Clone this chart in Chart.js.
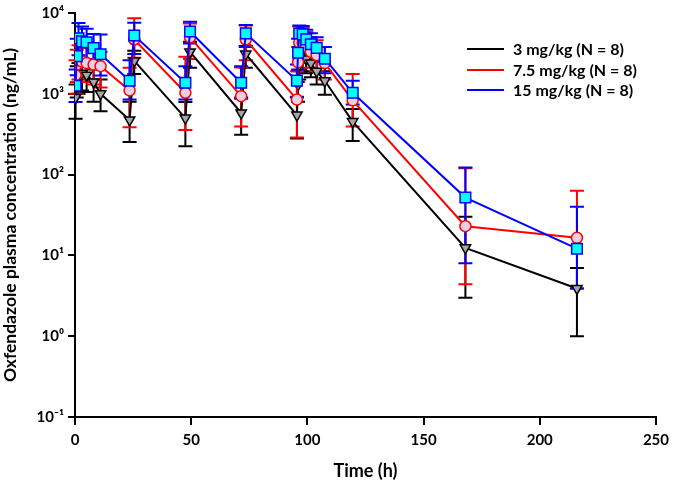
<!DOCTYPE html>
<html>
<head>
<meta charset="utf-8">
<script src="https://cdn.jsdelivr.net/npm/chart.js@4.4.0/dist/chart.umd.min.js"></script>
<style>
  html, body { margin: 0; padding: 0; background: #fff; }
  #wrap { width: 675px; height: 482px; }
</style>
</head>
<body>
<div id="wrap"><canvas id="pkChart" width="675" height="482"></canvas></div>
<script>
// temps de prélèvement (h)
const times = [0.25, 0.75, 1.5, 3, 5, 8, 11, 23.5, 25.5, 47.5, 49.5, 71.5, 73.5,
               95.5, 96, 96.5, 98, 99.5, 101.5, 104, 107.5, 119.5, 168, 216];

const seriesLabels = ['3 mg/kg (N = 8)', '7.5 mg/kg (N = 8)', '15 mg/kg (N = 8)'];

// moyennes (ng/mL)
const mean3 = [900, 1500, 1700, 1800, 1700, 1400, 1000, 475, 2550, 500, 3300, 580, 3100,
               546, 1300, 2300, 2800, 2700, 2400, 1900, 1450, 453, 12.4, 3.9];
const mean75 = [1700, 2300, 2600, 2500, 2400, 2300, 2200, 1100, 4700, 1030, 5000, 935, 4700,
                848, 2450, 4300, 4300, 3800, 3300, 3000, 2400, 830, 23, 16.5];
const mean15 = [1260, 2930, 4850, 4460, 4340, 3670, 3090, 1450, 5260, 1370, 5900, 1370, 5600,
                1455, 3215, 5580, 5430, 4720, 4100, 3700, 2720, 1030, 52, 12.1];

// bornes des barres d'erreur
const low3 = [490, 900, 1000, 1100, 1050, 800, 610, 254, 1760, 225, 2100, 312, 2100,
              280, 800, 1500, 1900, 1800, 1600, 1300, 975, 260, 3.0, 1.0];
const high3 = [1300, 2200, 2400, 2500, 2300, 2000, 1500, 800, 3400, 790, 4400, 900, 3900,
               900, 1900, 3000, 3600, 3500, 3100, 2500, 1900, 650, 30, 7];
const low75 = [1000, 1400, 1500, 1500, 1400, 1300, 1200, 385, 2800, 357, 2700, 394, 2600,
               287, 1400, 2600, 2700, 2400, 2100, 1900, 1500, 394, 4.4, 3.9];
const high75 = [2600, 3500, 4000, 3800, 3700, 3600, 3300, 2100, 8600, 2880, 7400, 2110, 7000,
                1900, 3800, 6800, 6500, 5800, 5000, 4600, 3800, 1760, 120, 63];
const low15 = [790, 1700, 3000, 2800, 2700, 2300, 1680, 850, 3100, 850, 4200, 870, 3800,
               920, 2000, 3800, 3800, 3300, 2900, 2600, 1800, 736, 8, 3.9];
const high15 = [2000, 4800, 7500, 6800, 6400, 5500, 5400, 2600, 7600, 2200, 7800, 2200, 7100,
                2300, 4800, 7000, 6900, 6200, 5600, 5000, 3800, 1455, 122, 40];

const yTickValues = [0.1, 1, 10, 100, 1000, 10000];
const yTickLabels = ['10\u207B\u00B9', '10\u2070', '10\u00B9', '10\u00B2', '10\u00B3', '10\u2074'];

const FONT = 'Lato';

function pts(values) {
    return times.map((t, i) => ({ x: t, y: values[i] }));
}

const errors = [
    { lo: low3, hi: high3, color: '#000000' },
    { lo: low75, hi: high75, color: '#ff0000' },
    { lo: low15, hi: high15, color: '#0000ff' }
];

// barres d'erreur dessinées avec les échelles du graphique
const errorBars = {
    id: 'errorBars',
    beforeDatasetsDraw(chart) {
        const ctx = chart.ctx;
        const xs = chart.scales.x, ys = chart.scales.y;
        ctx.save();
        ctx.lineWidth = 2;
        errors.forEach(e => {
            ctx.strokeStyle = e.color;
            times.forEach((t, i) => {
                const x = xs.getPixelForValue(t);
                const y1 = ys.getPixelForValue(e.lo[i]);
                const y2 = ys.getPixelForValue(e.hi[i]);
                ctx.beginPath();
                ctx.moveTo(x, y1); ctx.lineTo(x, y2);
                ctx.moveTo(x - 7, y1); ctx.lineTo(x + 7, y1);
                ctx.moveTo(x - 7, y2); ctx.lineTo(x + 7, y2);
                ctx.stroke();
            });
        });
        ctx.restore();
    }
};

// légende dans la zone du graphique, en haut à droite
const insideLegend = {
    id: 'insideLegend',
    afterDraw(chart) {
        const ctx = chart.ctx;
        const rows = [49, 70, 90];
        ctx.save();
        chart.data.datasets.forEach((ds, i) => {
            const y = rows[i];
            ctx.strokeStyle = ds.borderColor;
            ctx.lineWidth = 2;
            ctx.beginPath();
            ctx.moveTo(467, y); ctx.lineTo(504, y);
            ctx.stroke();
            ctx.fillStyle = ds.pointBackgroundColor;
            ctx.strokeStyle = ds.borderColor;
            ctx.lineWidth = ds.pointBorderWidth;
            Chart.helpers.drawPoint(ctx, {
                pointStyle: ds.pointStyle,
                rotation: ds.pointRotation || 0,
                borderWidth: ds.pointBorderWidth
            }, 486, y);
            ctx.fillStyle = '#000';
            ctx.font = 'bold 16px ' + FONT;
            ctx.textBaseline = 'middle';
            ctx.fillText(ds.label, 513, y + 1);
        });
        ctx.restore();
    }
};

// ordre de la légende : 3, 7.5, 15 ; le bleu dessiné au-dessus
const datasets = [
    {
        label: seriesLabels[0],
        data: pts(mean3),
        borderColor: '#000000',
        pointBackgroundColor: '#a6a6a6',
        pointStyle: 'triangle',
        pointRotation: 180,
        pointRadius: 6,
        order: 2
    },
    {
        label: seriesLabels[1],
        data: pts(mean75),
        borderColor: '#ff0000',
        pointBackgroundColor: '#ead0e4',
        pointStyle: 'circle',
        pointRadius: 5.5,
        order: 1
    },
    {
        label: seriesLabels[2],
        data: pts(mean15),
        borderColor: '#0000ff',
        pointBackgroundColor: '#00ffff',
        pointStyle: 'rect',
        pointRadius: 7.5,
        order: 0
    }
].map(ds => Object.assign({
    borderWidth: 2,
    pointBorderColor: ds.borderColor,
    pointBorderWidth: 1.5,
    tension: 0
}, ds));

new Chart(document.getElementById('pkChart'), {
    type: 'line',
    data: { datasets: datasets },
    plugins: [errorBars, insideLegend],
    options: {
        responsive: false,
        animation: false,
        devicePixelRatio: 1,
        layout: { padding: { top: 6, right: 13, left: 0, bottom: 0 } },
        plugins: { legend: { display: false }, tooltip: { enabled: false } },
        scales: {
            x: {
                type: 'linear',
                min: 0,
                max: 250,
                ticks: {
                    stepSize: 50,
                    color: '#000',
                    font: { family: FONT, weight: 'bold', size: 15 },
                    padding: 6
                },
                grid: { drawOnChartArea: false, color: '#000', lineWidth: 2, tickLength: 8 },
                border: { color: '#000', width: 2 },
                title: {
                    display: true,
                    text: 'Time (h)',
                    color: '#000',
                    font: { family: FONT, weight: 'bold', size: 18 },
                    padding: { top: 2, bottom: 0 }
                },
                afterFit(scale) { scale.height = 65; }
            },
            y: {
                type: 'logarithmic',
                min: 0.1,
                max: 10000,
                afterBuildTicks(scale) {
                    scale.ticks = yTickValues.map(v => ({ value: v }));
                },
                ticks: {
                    color: '#000',
                    font: { family: FONT, weight: 'bold', size: 15 },
                    padding: 4,
                    callback: (v, i) => yTickLabels[i]
                },
                grid: { drawOnChartArea: false, color: '#000', lineWidth: 2, tickLength: 7 },
                border: { color: '#000', width: 2 },
                title: {
                    display: true,
                    text: 'Oxfendazole plasma concentration (ng/mL)',
                    color: '#000',
                    font: { family: FONT, weight: 'bold', size: 17.5 },
                    padding: { top: 0, bottom: 0 }
                },
                afterFit(scale) { scale.width = 75; }
            }
        }
    }
});
</script>
</body>
</html>
